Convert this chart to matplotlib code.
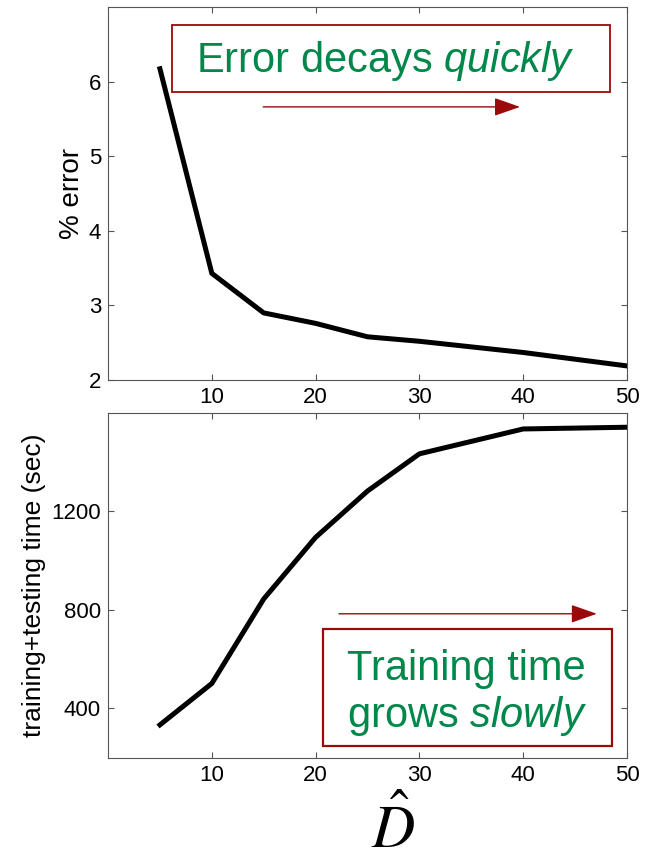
import matplotlib.pyplot as plt
from matplotlib.patches import Rectangle

plt.rcParams['font.family'] = ['Liberation Sans', 'DejaVu Sans']
# green captions use sans in mathtext, D-hat uses stix
plt.rcParams['mathtext.fontset'] = 'custom'
plt.rcParams['mathtext.rm'] = 'Liberation Sans'
plt.rcParams['mathtext.it'] = 'Liberation Sans:italic'

# data
d_hat = [5, 10, 15, 20, 25, 30, 40, 50]
pct_error = [6.17, 3.43, 2.90, 2.76, 2.58, 2.52, 2.37, 2.19]
run_time = [333, 501, 844, 1094, 1282, 1433, 1534, 1541]

xticks = [10, 20, 30, 40, 50]
err_ticks = [2, 3, 4, 5, 6]
time_ticks = [400, 800, 1200]

green = '#00874a'
darkred = '#9b0a0a'
arrow_style = '-|>,head_length=0.4,head_width=0.14'

fig = plt.figure(figsize=(6.47, 8.58), dpi=100)
ax1 = fig.add_axes([0.167, 0.557, 0.802, 0.435])
ax2 = fig.add_axes([0.167, 0.117, 0.802, 0.402])

for ax in (ax1, ax2):
    ax.tick_params(direction='in', top=True, right=True, labelsize=16,
                   length=4, color='#555555', pad=5)
    for s in ax.spines.values():
        s.set_color('#555555')
    ax.set_xlim(0, 50)
    ax.set_xticks(xticks)

# --- error plot ---
ax1.plot(d_hat, pct_error, color='black', lw=3.6)
ax1.set_ylim(2, 7)
ax1.set_yticks(err_ticks)
ax1.set_ylabel('% error', fontsize=20, labelpad=3)

ax1.add_patch(Rectangle((0.123, 0.772), 0.844, 0.18, transform=ax1.transAxes,
                        fill=False, ec=darkred, lw=1.3))
ax1.text(0.535, 0.826, r'Error decays $\mathit{quickly}$', transform=ax1.transAxes,
         fontsize=30, color=green, ha='center', va='baseline')
ax1.annotate('', xy=(0.794, 0.732), xytext=(0.299, 0.732), xycoords='axes fraction',
             arrowprops=dict(arrowstyle=arrow_style, color=darkred, lw=1,
                             mutation_scale=40, shrinkA=0, shrinkB=0))

# --- time plot ---
ax2.plot(d_hat, run_time, color='black', lw=3.6)
ax2.set_ylim(200, 1600)
ax2.set_yticks(time_ticks)
ax2.set_ylabel('training+testing time (sec)', fontsize=19, labelpad=4)
ax2.set_xlabel(r'$\hat{D}$', fontsize=43, math_fontfamily='stix')
ax2.xaxis.set_label_coords(0.55, -0.115)

ax2.add_patch(Rectangle((0.414, 0.035), 0.557, 0.339, transform=ax2.transAxes,
                        fill=False, ec=darkred, lw=1.6))
ax2.text(0.691, 0.226, 'Training time', transform=ax2.transAxes, fontsize=30,
         color=green, ha='center', va='baseline')
ax2.text(0.691, 0.090, r'grows $\mathit{slowly}$', transform=ax2.transAxes, fontsize=30,
         color=green, ha='center', va='baseline')
ax2.annotate('', xy=(0.942, 0.417), xytext=(0.445, 0.417), xycoords='axes fraction',
             arrowprops=dict(arrowstyle=arrow_style, color=darkred, lw=1,
                             mutation_scale=40, shrinkA=0, shrinkB=0))

fig.savefig('out.png', dpi=100)
